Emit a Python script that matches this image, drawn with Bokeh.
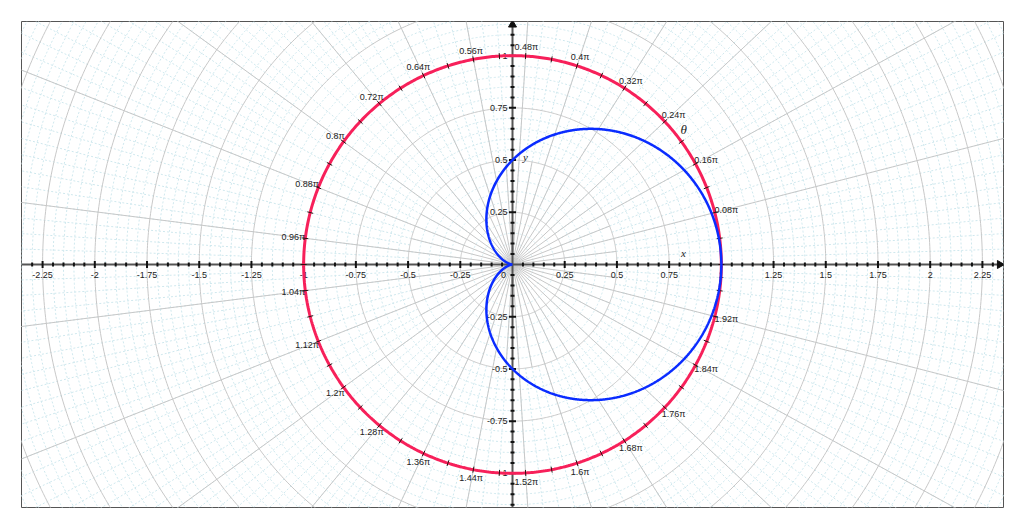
import numpy as np
from bokeh.plotting import figure
from bokeh.models import Range1d
from bokeh.embed import file_html
from bokeh.resources import INLINE
from bokeh.core.properties import value

# ---------------- data ----------------
x_tick_values = [-2.25, -2, -1.75, -1.5, -1.25, -1, -0.75, -0.5, -0.25,
                 0.25, 0.5, 0.75, 1, 1.25, 1.5, 1.75, 2, 2.25]
x_tick_labels = ["-2.25", "-2", "-1.75", "-1.5", "-1.25", "-1", "-0.75", "-0.5", "-0.25",
                 "0.25", "0.5", "0.75", "1", "1.25", "1.5", "1.75", "2", "2.25"]
y_tick_values = [-1, -0.75, -0.5, -0.25, 0.25, 0.5, 0.75, 1]
y_tick_labels = ["-1", "-0.75", "-0.5", "-0.25", "0.25", "0.5", "0.75", "1"]
theta_label_values = [0.08, 0.16, 0.24, 0.32, 0.4, 0.48, 0.56, 0.64, 0.72, 0.8, 0.88, 0.96,
                      1.04, 1.12, 1.2, 1.28, 1.36, 1.44, 1.52, 1.6, 1.68, 1.76, 1.84, 1.92]
theta_labels = ["0.08π", "0.16π", "0.24π", "0.32π", "0.4π", "0.48π", "0.56π", "0.64π",
                "0.72π", "0.8π", "0.88π", "0.96π", "1.04π", "1.12π", "1.2π", "1.28π",
                "1.36π", "1.44π", "1.52π", "1.6π", "1.68π", "1.76π", "1.84π", "1.92π"]
theta_tick_step = 0.04          # in multiples of π
unit_circle_radius = 1.0
cardioid_a = 0.5                # r = a (1 + cos θ)

# ---------------- geometry ----------------
XR = 2.351
YR = 1.1635
FW, FH = 982, 486
B = 21
S = FW / (2 * XR)               # pixels per unit

p = figure(width=FW + 2 * B, height=FH + 2 * B, output_backend="svg", toolbar_location=None,
           x_range=Range1d(-XR, XR), y_range=Range1d(-YR, YR),
           x_axis_location=None, y_axis_location=None,
           min_border_left=B, min_border_right=B, min_border_top=B, min_border_bottom=B)
p.xgrid.visible = False
p.ygrid.visible = False
p.outline_line_color = "#555555"
p.outline_line_width = 1
p.background_fill_color = "white"
p.border_fill_color = "white"

RMAX = 2.8
t = np.linspace(0, 2 * np.pi, 721)

# minor circles
mxs, mys = [], []
for k in range(1, 57):
    if k % 5 == 0:
        continue
    r = 0.05 * k
    mxs.append(list(r * np.cos(t))); mys.append(list(r * np.sin(t)))
# minor radial lines (density grows with radius)
bands = [(0.25, 0.5, 0.04), (0.5, 1.25, 0.02), (1.25, RMAX, 0.01)]
for r0, r1, step in bands:
    n = int(round(2 / step))
    for i in range(n):
        a = i * step * np.pi
        mxs.append([r0 * np.cos(a), r1 * np.cos(a)]); mys.append([r0 * np.sin(a), r1 * np.sin(a)])
p.multi_line(mxs, mys, line_color="#cfe8ee", line_width=1, line_dash="2 2")

# major circles & radials
gxs, gys = [], []
for k in range(1, 12):
    r = 0.25 * k
    gxs.append(list(r * np.cos(t))); gys.append(list(r * np.sin(t)))
for i in range(25):
    a = i * 0.08 * np.pi
    gxs.append([0, RMAX * np.cos(a)]); gys.append([0, RMAX * np.sin(a)])
for i in range(25):
    a = (i * 0.08 + 0.04) * np.pi
    gxs.append([0, 0.5 * np.cos(a)]); gys.append([0, 0.5 * np.sin(a)])
p.multi_line(gxs, gys, line_color="#c8c8c8", line_width=1)

# ---------------- axes ----------------
AX = "#555555"
p.segment(x0=[-XR], y0=[0], x1=[2.335], y1=[0], line_color=AX, line_width=2)
p.segment(x0=[0], y0=[-YR], x1=[0], y1=[1.15], line_color=AX, line_width=2)
p.scatter(x=[2.333], y=[0], marker="triangle", angle=-np.pi / 2, size=8, color="#111111")
p.scatter(x=[0], y=[1.148], marker="triangle", angle=0, size=8, color="#111111")

xt = np.round(np.arange(-2.3, 2.3001, 0.05), 2)
xt = xt[np.abs(xt) > 1e-9]
ymt = np.round(np.arange(-1.15, 1.1501, 0.05), 2)
ymt = ymt[np.abs(ymt) > 1e-9]
def is_major(v):
    return abs(v / 0.25 - round(v / 0.25)) < 1e-6
txs0, tys0, txs1, tys1 = [], [], [], []
for v in xt:
    h = (3.5 if is_major(v) else 2) / S
    txs0.append(v); txs1.append(v); tys0.append(-h); tys1.append(h)
for v in ymt:
    h = (3.5 if is_major(v) else 2) / S
    tys0.append(v); tys1.append(v); txs0.append(-h); txs1.append(h)
p.segment(x0=txs0, y0=tys0, x1=txs1, y1=tys1, line_color="#111111", line_width=2)

LF = value("Liberation Sans")
p.text(x=x_tick_values, y=[-10 / S] * len(x_tick_values), text=x_tick_labels,
       text_font=LF, text_font_size="9px", text_align="center", text_baseline="middle",
       text_color="#222222")
p.text(x=[-5 / S] * len(y_tick_values), y=y_tick_values, text=y_tick_labels,
       text_font=LF, text_font_size="9px", text_align="right", text_baseline="middle",
       text_color="#222222")
p.text(x=[-9 / S], y=[-10 / S], text=["0"], text_font=LF, text_font_size="9px",
       text_align="center", text_baseline="middle", text_color="#222222")

SF = value("Liberation Serif")
p.text(x=[0.819], y=[0.057], text=["x"], text_font=SF, text_font_style="italic",
       text_font_size="11px", text_align="center", text_baseline="middle", text_color="#222222")
p.text(x=[0.062], y=[0.513], text=["y"], text_font=SF, text_font_style="italic",
       text_font_size="11px", text_align="center", text_baseline="middle", text_color="#222222")
p.text(x=[0.82], y=[0.646], text=["θ"], text_font=SF, text_font_style="italic",
       text_font_size="13px", text_align="center", text_baseline="middle", text_color="#222222")

# ---------------- curves ----------------
RED = "#f7205a"
BLUE = "#0a2cff"
p.line(unit_circle_radius * np.cos(t), unit_circle_radius * np.sin(t), line_color=RED, line_width=3)

nt = int(round(2 / theta_tick_step))
ta = np.arange(nt) * theta_tick_step * np.pi
h = 3 / S
p.segment(x0=list((unit_circle_radius - h) * np.cos(ta)), y0=list((unit_circle_radius - h) * np.sin(ta)),
          x1=list((unit_circle_radius + h) * np.cos(ta)), y1=list((unit_circle_radius + h) * np.sin(ta)),
          line_color="#2a1010", line_width=1)

tc = np.linspace(0, 2 * np.pi, 1441)
rc = cardioid_a * (1 + np.cos(tc))
p.line(rc * np.cos(tc), rc * np.sin(tc), line_color=BLUE, line_width=2.5)

# theta labels
lx, ly = [], []
for v, s in zip(theta_label_values, theta_labels):
    a = v * np.pi
    w = 3.6 * len(s)
    dx = np.cos(a) * (w / 2 + 3)
    dy = np.sin(a) * 9
    lx.append(unit_circle_radius * np.cos(a) + dx / S)
    ly.append(unit_circle_radius * np.sin(a) + dy / S)
p.text(x=lx, y=ly, text=theta_labels, text_font=LF, text_font_size="9px",
       text_align="center", text_baseline="middle", text_color="#222222")

open("out.html", "w").write(file_html(p, INLINE))
